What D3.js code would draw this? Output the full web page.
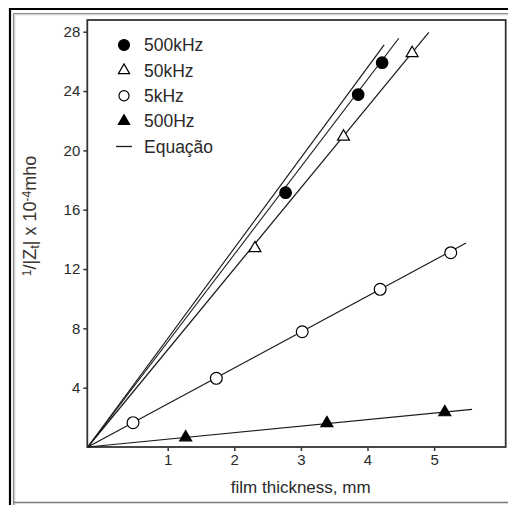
<!DOCTYPE html>
<html><head><meta charset="utf-8">
<script src="https://cdn.jsdelivr.net/npm/d3@7"></script>
<style>
html,body{margin:0;padding:0;background:#fff;}
svg{display:block;font-family:"Liberation Sans",Arial,sans-serif;}
</style></head>
<body>
<svg id="chart" width="508" height="505"></svg>
<script>
// ---- data ----
const xTicks = [1, 2, 3, 4, 5];
const yTicks = [4, 8, 12, 16, 20, 24, 28];
const legendLabels = ["500kHz", "50kHz", "5kHz", "500Hz", "Equação"];

const k500X = [2.77, 3.86, 4.22];
const k500Y = [17.15, 23.76, 25.91];
const k50X = [2.31, 3.64, 4.67];
const k50Y = [13.4, 20.92, 26.55];
const k5X = [0.48, 1.73, 3.02, 4.19, 5.25];
const k5Y = [1.64, 4.63, 7.77, 10.63, 13.1];
const hz500X = [1.27, 3.39, 5.16];
const hz500Y = [0.65, 1.6, 2.34];

// "Equação" lines: start at the axes corner, end points below
const eqStartX = -0.2;
const eqStartY = 0;
const eqEndX = [4.25, 4.47, 4.92, 5.48, 5.57];
const eqEndY = [27.11, 27.56, 27.96, 13.76, 2.54];

const xDomain = [-0.207, 6.075];
const yDomain = [0, 28.79];

// ---- drawing ----
const svg = d3.select("#chart");
const L = 87.3, R = 505.7, T = 20, B = 447;
const x = d3.scaleLinear().domain(xDomain).range([L, R]);
const y = d3.scaleLinear().domain(yDomain).range([B, T]);
const ink = "#2a2a2a";
const font = "\"Liberation Sans\",Arial,sans-serif";

// outer frames
svg.append("line").attr("x1", 9).attr("x2", 508).attr("y1", 9).attr("y2", 9)
  .attr("stroke", "#000").attr("stroke-width", 2.2);
svg.append("line").attr("x1", 10).attr("x2", 10).attr("y1", 8).attr("y2", 505)
  .attr("stroke", "#000").attr("stroke-width", 2.2);
svg.append("path").attr("d", "M13.5,512 V13.5 H515")
  .attr("fill", "none").attr("stroke", "#8a8a8a").attr("stroke-width", 1.2);
svg.append("path").attr("d", "M14.8,512 V14.8 H515")
  .attr("fill", "none").attr("stroke", "#c8c8c8").attr("stroke-width", 1);
svg.append("line").attr("x1", 13).attr("x2", 515).attr("y1", 502.5).attr("y2", 502.5)
  .attr("stroke", "#7a7a7a").attr("stroke-width", 1.3);

// plot box
svg.append("rect").attr("x", L).attr("y", T).attr("width", R - L).attr("height", B - T)
  .attr("fill", "none").attr("stroke", "#333").attr("stroke-width", 1.8);

// axes
const xAxis = d3.axisBottom(x).tickValues(xTicks).tickSize(4).tickPadding(3).tickFormat(d3.format("d"));
const yAxis = d3.axisLeft(y).tickValues(yTicks).tickSize(4).tickPadding(3).tickFormat(d3.format("d"));
const gx = svg.append("g").attr("transform", `translate(0,${B})`).call(xAxis);
const gy = svg.append("g").attr("transform", `translate(${L},0)`).call(yAxis);
[gx, gy].forEach(g => {
  g.select(".domain").remove();
  g.selectAll(".tick line").attr("stroke", "#333").attr("stroke-width", 1.5);
  g.selectAll(".tick text").attr("fill", ink).style("font-size", "15px").style("font-family", font);
});

// equation lines
const eqData = eqEndX.map((ex, i) => [[eqStartX, eqStartY], [ex, eqEndY[i]]]);
const lineGen = d3.line().x(d => x(d[0])).y(d => y(d[1]));
svg.append("g").selectAll("path").data(eqData).join("path")
  .attr("d", lineGen).attr("fill", "none").attr("stroke", "#1a1a1a").attr("stroke-width", 1.2);

// markers
function drawSeries(xs, ys, type, size, fill) {
  svg.append("g").selectAll("path").data(xs.map((v, i) => [v, ys[i]])).join("path")
    .attr("transform", d => `translate(${x(d[0])},${y(d[1])})`)
    .attr("d", d3.symbol().type(type).size(size)())
    .attr("fill", fill).attr("stroke", "#000").attr("stroke-width", 1.2);
}
drawSeries(k500X, k500Y, d3.symbolCircle, 105, "#000");
drawSeries(k50X, k50Y, d3.symbolTriangle, 62, "#fff");
drawSeries(k5X, k5Y, d3.symbolCircle, 110, "#fff");
drawSeries(hz500X, hz500Y, d3.symbolTriangle, 62, "#000");

// legend
const legTypes = [d3.symbolCircle, d3.symbolTriangle, d3.symbolCircle, d3.symbolTriangle, null];
const legFills = ["#000", "#fff", "#fff", "#000", null];
const legSizes = [95, 55, 80, 55, 0];
const legY = d3.scaleLinear().domain([0, 4]).range([45, 146.5]);
const leg = svg.append("g");
legendLabels.forEach((lab, i) => {
  const yy = legY(i);
  if (legTypes[i]) {
    leg.append("path").attr("transform", `translate(124,${yy})`)
      .attr("d", d3.symbol().type(legTypes[i]).size(legSizes[i])())
      .attr("fill", legFills[i]).attr("stroke", "#000").attr("stroke-width", 1.2);
  } else {
    leg.append("line").attr("x1", 116).attr("x2", 132).attr("y1", yy).attr("y2", yy)
      .attr("stroke", "#1a1a1a").attr("stroke-width", 1.3);
  }
  leg.append("text").attr("x", 144).attr("y", yy).attr("dy", "0.36em")
    .attr("fill", ink).style("font-size", "17.5px").style("font-family", font).text(lab);
});

// x axis title
svg.append("text").attr("x", 300.7).attr("y", 487).attr("dy", "0.36em")
  .attr("text-anchor", "middle").attr("fill", ink)
  .style("font-size", "17px").style("font-family", font).text("film thickness, mm");

// y axis title
const yt = svg.append("text").attr("transform", "translate(36,216) rotate(-90)")
  .attr("text-anchor", "middle").attr("fill", "#3a3530")
  .style("font-size", "18px").style("font-family", font);
yt.append("tspan").attr("baseline-shift", "40%").style("font-size", "12px").text("1");
yt.append("tspan").text("/|Z");
yt.append("tspan").attr("baseline-shift", "-25%").style("font-size", "13px").text("t");
yt.append("tspan").text("| x 10");
yt.append("tspan").attr("baseline-shift", "45%").style("font-size", "12px").text("-4");
yt.append("tspan").text("mho");
</script>
</body></html>
